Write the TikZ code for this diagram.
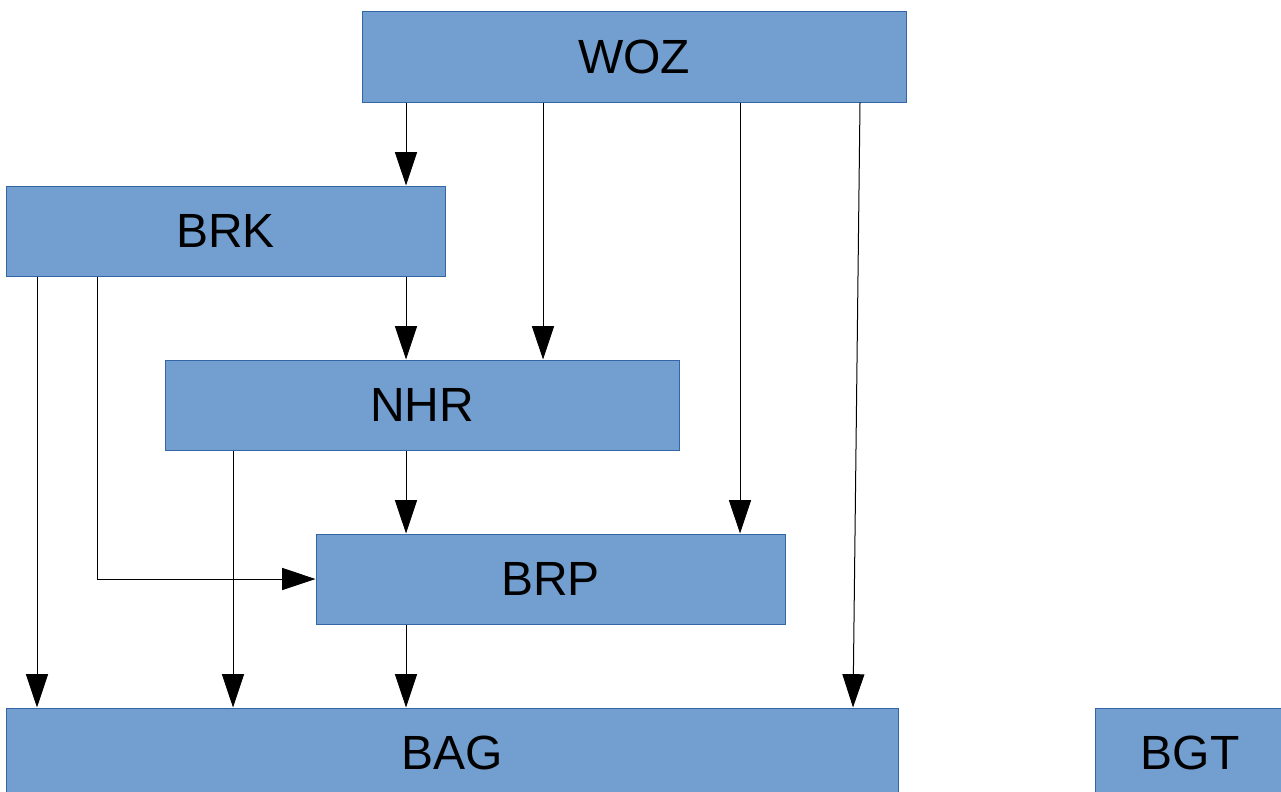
\documentclass[tikz,border=0pt]{standalone}
\usepackage{fontspec}
\setmainfont{Liberation Sans}
\usetikzlibrary{arrows.meta}
\definecolor{boxfill}{HTML}{729FCF}
\definecolor{boxline}{HTML}{3465A4}
\tikzset{>={Triangle[width=16.5pt,length=25pt]}}

\begin{document}
\begin{tikzpicture}[x=0.75pt,y=-0.75pt,
    reg/.style={draw=boxline,fill=boxfill,line width=0.75pt,minimum height=67.5pt,
        inner sep=0pt,font=\fontsize{36}{40}\selectfont},
    link/.style={->,line width=0.75pt}]
            \useasboundingbox (0,0) rectangle (1281,792);
            \clip (0,0) rectangle (1281,792);
            \node[reg,minimum width=408pt] (WOZ) at (634,57){WOZ};
            \node[reg,minimum width=329.25pt] (BRK) at (225.5,231){BRK};
            \node[reg,minimum width=385.5pt] (NHR) at (422,405){NHR};
            \node[reg,minimum width=351.75pt] (BRP) at (550.5,579){BRP};
            \node[reg,minimum width=669pt] (BAG) at (452,753){BAG};
            \node[reg,minimum width=142.5pt] (BGT) at (1190,753){BGT};
            % from WOZ
            \draw[link] (406,0 |- WOZ.south) -- (406,0 |- BRK.north);
            \draw[link] (543,0 |- WOZ.south) -- (543,0 |- NHR.north);
            \draw[link] (740,0 |- WOZ.south) -- (740,0 |- BRP.north);
            \draw[link] (860,0 |- WOZ.south) -- (853,0 |- BAG.north);
            % from BRK
            \draw[link] (406,0 |- BRK.south) -- (406,0 |- NHR.north);
            \draw[link] (37,0 |- BRK.south) -- (37,0 |- BAG.north);
            \draw[link] (97,0 |- BRK.south) |- (BRP.west);
            % from NHR and BRP
            \draw[link] (406,0 |- NHR.south) -- (406,0 |- BRP.north);
            \draw[link] (233,0 |- NHR.south) -- (233,0 |- BAG.north);
            \draw[link] (406,0 |- BRP.south) -- (406,0 |- BAG.north);
        \end{tikzpicture}
\end{document}
